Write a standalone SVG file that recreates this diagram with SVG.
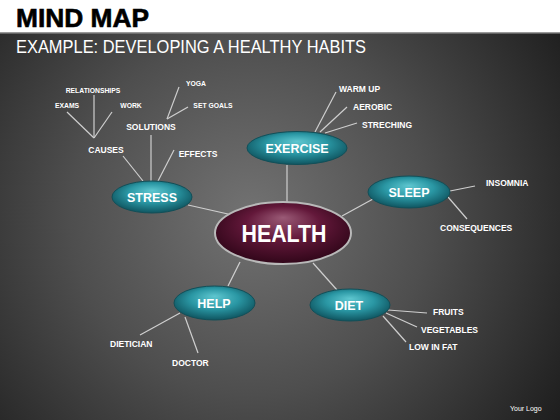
<svg xmlns="http://www.w3.org/2000/svg" width="560" height="420" viewBox="0 0 560 420">
<defs>
<radialGradient id="bg" cx="250" cy="215" r="400" gradientUnits="userSpaceOnUse">
<stop offset="0" stop-color="#727272"/>
<stop offset="0.45" stop-color="#4e4e4e"/>
<stop offset="1" stop-color="#161616"/>
</radialGradient>
<radialGradient id="teal" cx="0.5" cy="0.45" r="0.6" fx="0.5" fy="0.3">
<stop offset="0" stop-color="#5ec6cf"/>
<stop offset="0.5" stop-color="#2a97a4"/>
<stop offset="1" stop-color="#0b4b56"/>
</radialGradient>
<radialGradient id="maroon" cx="0.5" cy="0.45" r="0.6" fx="0.5" fy="0.25">
<stop offset="0" stop-color="#9a5a76"/>
<stop offset="0.45" stop-color="#63183a"/>
<stop offset="1" stop-color="#2a0415"/>
</radialGradient>
<style>
.node{fill:url(#teal);stroke:#124f58;stroke-width:1}
.nt{font-family:"Liberation Sans",Arial,sans-serif;font-weight:bold;font-size:12.5px;fill:#ffffff;text-anchor:middle}
.lb{font-family:"Liberation Sans",Arial,sans-serif;font-weight:bold;font-size:8.5px;fill:#ffffff}
.sm{font-family:"Liberation Sans",Arial,sans-serif;font-weight:bold;font-size:6.8px;fill:#ffffff}
.cn line{stroke:#cfcfcf;stroke-width:1.2}
</style>
</defs>
<rect x="0" y="0" width="560" height="420" fill="url(#bg)"/>
<rect x="0" y="0" width="560" height="32" fill="#ffffff"/>
<rect x="0" y="32" width="560" height="1.5" fill="#9a9a9a"/>
<text x="16" y="27" font-family="Liberation Sans,Arial,sans-serif" font-weight="900" font-size="25" fill="#000000" stroke="#000000" stroke-width="0.6" textLength="133" lengthAdjust="spacingAndGlyphs">MIND MAP</text>
<text x="16" y="53" font-family="Liberation Sans,Arial,sans-serif" font-size="19" fill="#ffffff" textLength="350" lengthAdjust="spacingAndGlyphs">EXAMPLE: DEVELOPING A HEALTHY HABITS</text>

<g class="cn" id="connectors">
<line x1="287" y1="165" x2="287" y2="203"/>
<line x1="188" y1="205" x2="228" y2="214"/>
<line x1="373" y1="199" x2="342" y2="216"/>
<line x1="228" y1="286" x2="240" y2="262"/>
<line x1="337" y1="290" x2="313" y2="263"/>
<line x1="143" y1="181" x2="123" y2="156"/>
<line x1="151" y1="181" x2="151" y2="135"/>
<line x1="158" y1="181" x2="174" y2="150"/>
<line x1="94" y1="138" x2="94" y2="95"/>
<line x1="94" y1="138" x2="67" y2="112"/>
<line x1="94" y1="138" x2="112" y2="112"/>
<line x1="167" y1="119" x2="179" y2="87"/>
<line x1="167" y1="119" x2="188" y2="107"/>
<line x1="315" y1="132" x2="336" y2="92"/>
<line x1="320" y1="132" x2="347" y2="107"/>
<line x1="325" y1="133" x2="357" y2="123"/>
<line x1="450" y1="191" x2="475" y2="186"/>
<line x1="448" y1="197" x2="467" y2="219"/>
<line x1="180" y1="313" x2="140" y2="335"/>
<line x1="185" y1="317" x2="198" y2="353"/>
<line x1="388" y1="310" x2="427" y2="313"/>
<line x1="386" y1="313" x2="417" y2="327"/>
<line x1="383" y1="316" x2="406" y2="342"/>
</g>

<g id="health">
<ellipse cx="283" cy="233" rx="68" ry="31" fill="url(#maroon)" stroke="#b9b9b9" stroke-width="2"/>
<text x="284" y="242" font-family="Liberation Sans,Arial,sans-serif" font-weight="bold" font-size="23" fill="#ffffff" text-anchor="middle" textLength="85" lengthAdjust="spacingAndGlyphs">HEALTH</text>
</g>
<g id="exercise">
<ellipse class="node" cx="297" cy="148" rx="50" ry="16.5"/>
<text class="nt" x="297" y="153">EXERCISE</text>
</g>
<g id="stress">
<ellipse class="node" cx="152" cy="197" rx="40" ry="16"/>
<text class="nt" x="152" y="202">STRESS</text>
</g>
<g id="sleep">
<ellipse class="node" cx="409" cy="192" rx="41" ry="16"/>
<text class="nt" x="409" y="197">SLEEP</text>
</g>
<g id="help">
<ellipse class="node" cx="214.5" cy="303" rx="40.5" ry="17"/>
<text class="nt" x="214" y="308">HELP</text>
</g>
<g id="diet">
<ellipse class="node" cx="350" cy="305" rx="40" ry="16"/>
<text class="nt" x="349" y="310">DIET</text>
</g>

<g id="labels">
<text class="sm" x="93" y="93" text-anchor="middle">RELATIONSHIPS</text>
<text class="sm" x="67" y="108" text-anchor="middle">EXAMS</text>
<text class="sm" x="131" y="108" text-anchor="middle">WORK</text>
<text class="sm" x="196" y="86" text-anchor="middle">YOGA</text>
<text class="sm" x="213" y="108" text-anchor="middle">SET GOALS</text>
<text class="lb" x="151" y="130" text-anchor="middle" font-size="9.5">SOLUTIONS</text>
<text class="lb" x="106" y="153" text-anchor="middle">CAUSES</text>
<text class="lb" x="198" y="157" text-anchor="middle">EFFECTS</text>
<text class="lb" x="339" y="92">WARM UP</text>
<text class="lb" x="353" y="110">AEROBIC</text>
<text class="lb" x="362" y="128">STRECHING</text>
<text class="lb" x="486" y="186">INSOMNIA</text>
<text class="lb" x="440" y="231">CONSEQUENCES</text>
<text class="lb" x="110" y="347">DIETICIAN</text>
<text class="lb" x="172" y="366">DOCTOR</text>
<text class="lb" x="433" y="315">FRUITS</text>
<text class="lb" x="421" y="333">VEGETABLES</text>
<text class="lb" x="409" y="350">LOW IN FAT</text>
<text x="510" y="411" font-family="Liberation Sans,Arial,sans-serif" font-size="7" fill="#ffffff">Your Logo</text>
</g>
</svg>
